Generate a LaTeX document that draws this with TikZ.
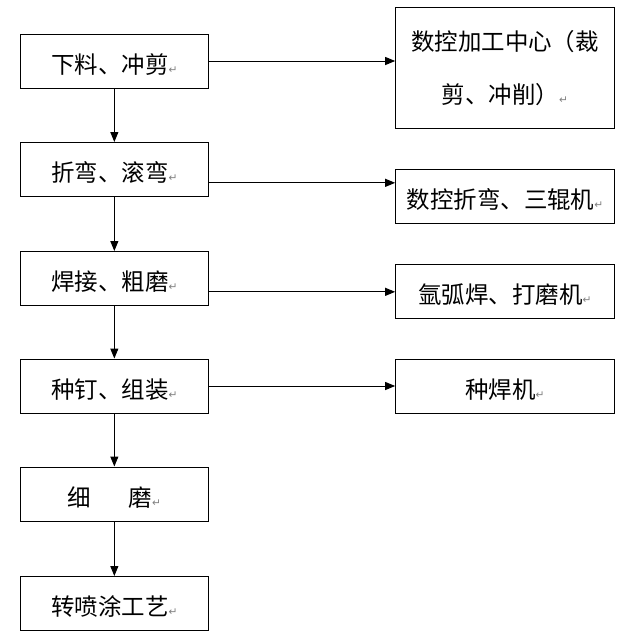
\documentclass[tikz,border=0pt]{standalone}
\usepackage{fontspec}
\newfontfamily\cjk{Noto Sans CJK SC}
\newfontfamily\dejavu{DejaVu Sans}
\usetikzlibrary{arrows.meta}
\newcommand\retmark{{\dejavu\fontsize{8pt}{8pt}\selectfont\color{gray}↵}}

\begin{document}
\begin{tikzpicture}[x=.75pt,y=-.75pt,>={Triangle[length=7.5pt,width=6pt]},line width=.75pt,
    every node/.style={font=\cjk\fontsize{17.6pt}{21pt}\selectfont},
    procbox/.style={draw,minimum width=140.5pt,minimum height=40.5pt,inner sep=0pt,text height=1.85em,text depth=0pt},
    machbox/.style={procbox,minimum width=164pt}]
    \useasboundingbox (0,0) rectangle (639,636);
    % process steps
    \node[procbox] (l1) at (114.35,61) {下料、冲剪\retmark};
    \node[procbox] (l2) at (114.35,169.5) {折弯、滚弯\retmark};
    \node[procbox] (l3) at (114.35,278.5) {焊接、粗磨\retmark};
    \node[procbox] (l4) at (114.35,386) {种钉、组装\retmark};
    \node[procbox] (l5) at (114.35,494) {细\hspace{1.6em}磨\retmark};
    \node[procbox] (l6) at (114.35,603.5) {转喷涂工艺\retmark};
    % machines
    \node[draw,minimum width=164pt,minimum height=91.3pt,align=center,font=\cjk\fontsize{17.6pt}{40pt}\selectfont] (r1) at (505,68) {数控加工中心（裁\\剪、冲削）\retmark};
    \node[machbox] (r2) at (505,196) {数控折弯、三辊机\retmark};
    \node[machbox] (r3) at (505,291) {氩弧焊、打磨机\retmark};
    \node[machbox] (r4) at (505,386) {种焊机\retmark};
    \foreach \i/\j in {1/2,2/3,3/4,4/5,5/6}{
        \draw[->] (l\i) -- (l\j);
    }
    \foreach \i/\d in {1/0,2/-10,3/-10,4/0}{
        \draw[->] ([yshift=\d pt]l\i.east) -- ([yshift=\d pt]l\i.east -| r\i.west);
    }
\end{tikzpicture}
\end{document}
